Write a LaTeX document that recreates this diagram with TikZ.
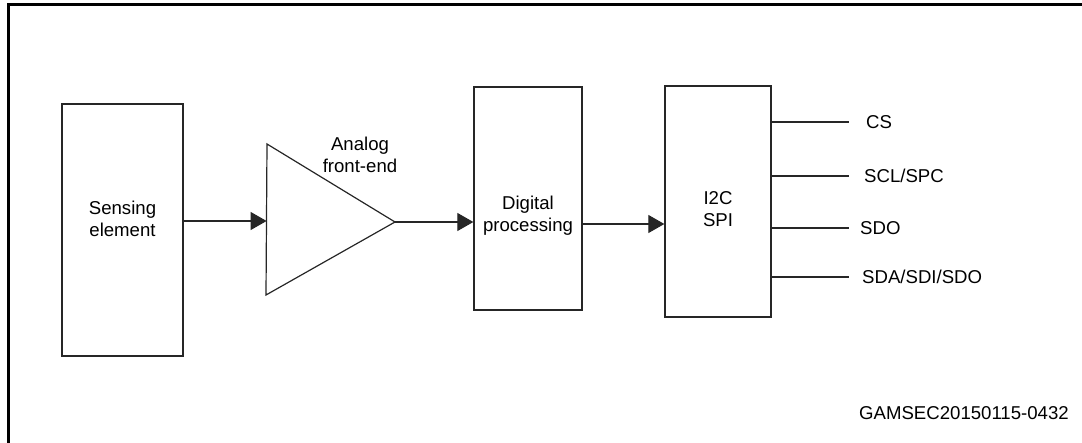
\documentclass[tikz,border=0pt]{standalone}
\usepackage{fontspec}
\setmainfont{Liberation Sans}
\usetikzlibrary{arrows.meta}
\begin{document}
\begin{tikzpicture}[x=1pt,y=-1pt,
  blockbox/.style={draw=black!85,line width=1.3pt,rectangle,inner sep=0pt},
  lbl/.style={align=center,inner sep=0pt,font=\fontsize{18.6}{22}\selectfont},
  pin/.style={anchor=west,inner sep=0pt,font=\fontsize{18.6}{22}\selectfont},
  conn/.style={draw=black!85,line width=1.2pt},
  arr/.style={conn,-{Triangle[length=16pt,width=18pt]}}]
\useasboundingbox (0,0) rectangle (1082,443);
% open frame
\draw[line width=2.8pt] (8.5,443) -- (8.5,4.5) -- (1082,4.5);
% blocks
\node[blockbox,minimum width=121pt,minimum height=252pt] (sense) at (122.5,230) {};
\node[lbl] (senset) at (122.5,219) {Sensing\\element};
\coordinate (tl) at (267,144);
\coordinate (bl) at (266,295);
\coordinate (tip) at (395,222);
\draw[conn,line join=miter] (tl) -- (tip) -- (bl) -- cycle;
\node[lbl] (afe) at (360,155) {Analog\\front-end};
\node[blockbox,minimum width=108pt,minimum height=223pt] (dig) at (528,198.5) {};
\node[lbl] (digt) at (528,216) {Digital\\processing};
\node[blockbox,minimum width=106pt,minimum height=231pt] (ifc) at (718,201.5) {};
\node[lbl] (ifct) at (718,209) {I2C\\SPI};
% connectors
\coordinate (ain) at (266.6,221);
\draw[arr] (sense.east |- ain) -- (ain);
\draw[arr] (tip) -- (dig.west |- tip);
\coordinate (dout) at (582,224);
\draw[arr] (dig.east |- dout) -- (ifc.west |- dout);
% pins
\coordinate (p1) at (849,122);
\coordinate (p2) at (849,176);
\coordinate (p3) at (849,228);
\coordinate (p4) at (849,277);
\draw[conn] (ifc.east |- p1) -- (p1);
\draw[conn] (ifc.east |- p2) -- (p2);
\draw[conn] (ifc.east |- p3) -- (p3);
\draw[conn] (ifc.east |- p4) -- (p4);
\node[pin] (cs) at (866,122) {CS};
\node[pin] (scl) at (864,176) {SCL/SPC};
\node[pin] (sdo) at (860,228) {SDO};
\node[pin] (sda) at (862,277) {SDA/SDI/SDO};
\node[pin] (code) at (859,413) {GAMSEC20150115-0432};
\end{tikzpicture}
\end{document}
